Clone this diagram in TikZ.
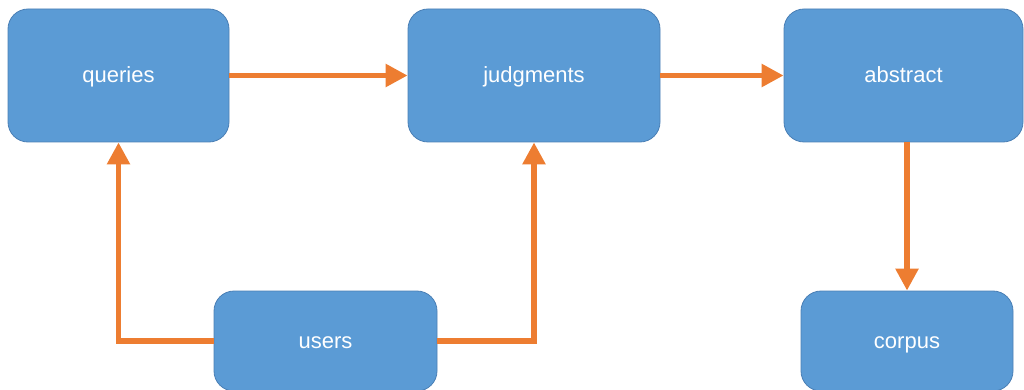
\documentclass[tikz,border=0pt]{standalone}
\usepackage{fontspec}
\setmainfont{Liberation Sans}
\usetikzlibrary{arrows.meta}
\definecolor{boxfill}{HTML}{5B9BD5}
\definecolor{boxline}{HTML}{4A7FB5}
\definecolor{arr}{HTML}{ED7D31}
\begin{document}
\begin{tikzpicture}[x=1pt,y=-1pt,
  box/.style={draw=boxline, line width=0.8pt, fill=boxfill, rounded corners=20pt,
    inner sep=0pt, text=white, font=\fontsize{22}{26}\selectfont,
    text height=18pt, text depth=3pt},
  link/.style={draw=arr, line width=5.5pt,
    -{Triangle[length=22pt,width=22pt]}}]
\useasboundingbox (0,0) rectangle (1024,390);
\node[box, minimum width=221pt, minimum height=133pt] (queries) at (118.5,75.5) {queries};
\node[box, minimum width=252pt, minimum height=133pt] (judgments) at (534,75.5) {judgments};
\node[box, minimum width=239pt, minimum height=133pt] (abstract) at (903.5,75.5) {abstract};
\node[box, minimum width=223pt, minimum height=100pt] (users) at (325.5,341) {users};
\node[box, minimum width=212pt, minimum height=100pt] (corpus) at (907,341) {corpus};
\draw[link] (queries) -- (judgments);
\draw[link] (judgments) -- (abstract);
\draw[link] (corpus.north |- abstract.south) -- (corpus.north);
\draw[link] (users.west) -| (queries.south);
\draw[link] (users.east) -| (judgments.south);
\end{tikzpicture}
\end{document}
